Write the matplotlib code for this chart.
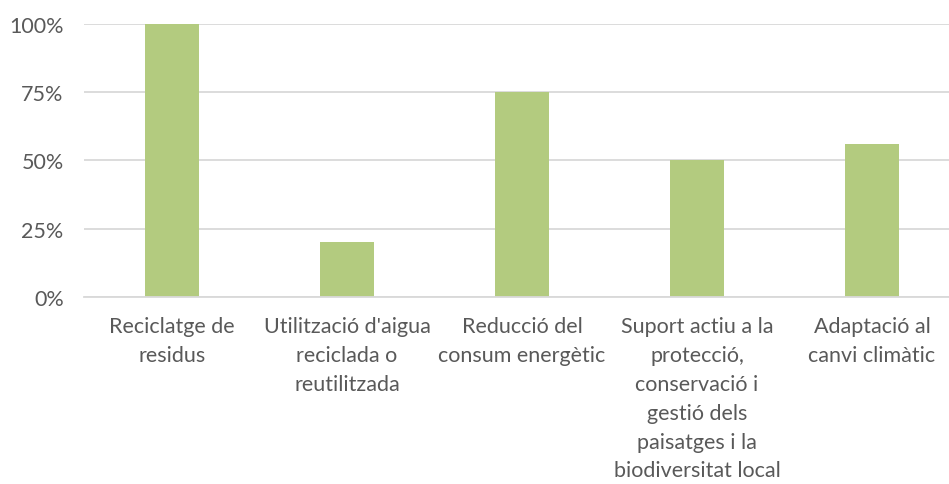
import matplotlib.pyplot as plt
from matplotlib.ticker import PercentFormatter

categories = [
    "Reciclatge de\nresidus",
    "Utilització d'aigua\nreciclada o\nreutilitzada",
    "Reducció del\nconsum energètic",
    "Suport actiu a la\nprotecció,\nconservació i\ngestió dels\npaisatges i la\nbiodiversitat local",
    "Adaptació al\ncanvi climàtic",
]
values = [100, 20, 75, 50, 56]

plt.rcParams['font.family'] = ['Lato', 'DejaVu Sans']

fig = plt.figure(figsize=(9.49, 4.85), dpi=100)
ax = fig.add_axes([0.089, 0.3856, 0.922, 0.563])

x = range(len(categories))
ax.bar(x, values, width=0.31, color='#b3cb7f', zorder=2)

ax.set_xlim(-0.5, len(categories) - 0.5)
ax.set_ylim(0, 100)
ax.set_yticks([0, 25, 50, 75, 100])
ax.yaxis.set_major_formatter(PercentFormatter(decimals=0))
ax.grid(axis='y', color='#d9d9d9', linewidth=1.3, zorder=0)

ax.set_xticks(list(x))
ax.set_xticklabels(categories, linespacing=1.55)
ax.tick_params(axis='x', length=0, pad=14, labelsize=15.5, labelcolor='#595959')
ax.tick_params(axis='y', length=0, pad=15, labelsize=15.5, labelcolor='#595959')

for s in ['top', 'right', 'left']:
    ax.spines[s].set_visible(False)
ax.spines['bottom'].set_color('#d9d9d9')
ax.spines['bottom'].set_linewidth(1.3)

fig.savefig('out.png', dpi=100)
